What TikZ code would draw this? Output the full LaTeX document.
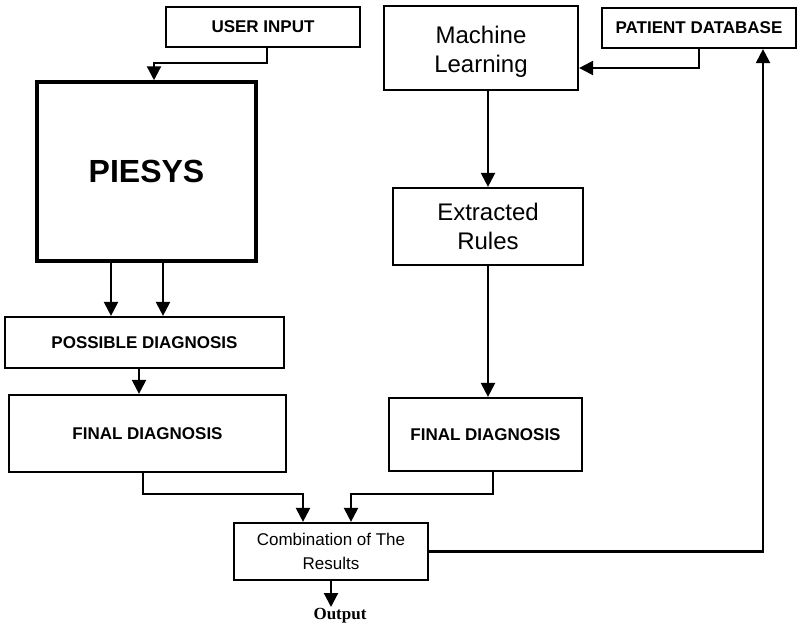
\documentclass[tikz,border=0pt]{standalone}
\usepackage{fontspec}
\setmainfont{Liberation Sans}
\newfontfamily\outfont{Liberation Serif}
\usepackage{tikz}
\usetikzlibrary{arrows.meta,calc}
\tikzset{>={Triangle[width=14pt,length=14pt]}}

\begin{document}
\begin{tikzpicture}[x=1pt,y=-1pt,
    capsbox/.style={draw,line width=2.2pt,inner sep=0pt,align=center,font=\fontsize{17}{20}\selectfont\bfseries},
    wordbox/.style={draw,line width=2.2pt,inner sep=0pt,align=center,font=\fontsize{24}{29}\selectfont},
    combbox/.style={draw,line width=2.2pt,inner sep=0pt,align=center,font=\fontsize{17}{24}\selectfont},
    conn/.style={line width=2.2pt,->}]
      \useasboundingbox (0,0) rectangle (800,632);
      \node[capsbox,minimum width=194pt,minimum height=40pt] (ui) at (263,27) {USER INPUT};
      \node[draw,line width=3.5pt,inner sep=0pt,minimum width=219pt,minimum height=179pt,font=\fontsize{32}{36}\selectfont\bfseries] (piesys) at (146.5,171.5) {PIESYS};
      \node[capsbox,minimum width=279pt,minimum height=51pt] (poss) at (144.5,342.5) {POSSIBLE DIAGNOSIS};
      \node[capsbox,minimum width=277pt,minimum height=77pt] (finl) at (147.5,433.5) {FINAL DIAGNOSIS};
      \node[wordbox,minimum width=194pt,minimum height=84pt,text height=55pt,text depth=5.5pt] (ml) at (481,48) {Machine\\Learning};
      \node[capsbox,minimum width=194pt,minimum height=40pt] (pd) at (699,28) {PATIENT DATABASE};
      \node[wordbox,minimum width=190pt,minimum height=77pt] (er) at (488,226.5) {Extracted\\Rules};
      \node[capsbox,minimum width=193pt,minimum height=73pt] (finr) at (485.5,434.5) {FINAL DIAGNOSIS};
      \node[combbox,minimum width=194pt,minimum height=57pt] (comb) at (331,551.5) {Combination of The\\Results};
      \node[anchor=north,inner sep=1pt,font=\outfont\fontsize{17}{19}\selectfont\bfseries] (out) at (340,607) {Output};
      \draw[conn] ([xshift=4pt]ui.south) -- ++(0,15) -| ([xshift=7.5pt]piesys.north);
      \draw[conn] ([xshift=-35.5pt]piesys.south) -- ([xshift=-35.5pt]piesys.south |- poss.north);
      \draw[conn] ([xshift=16.5pt]piesys.south) -- ([xshift=16.5pt]piesys.south |- poss.north);
      \draw[conn] ([xshift=-5.5pt]poss.south) -- ([xshift=-5.5pt]poss.south |- finl.north);
      \draw[conn] ([xshift=-4.5pt]finl.south) -- ++(0,21) -| ([xshift=-28pt]comb.north);
      \draw[conn] ([xshift=7.5pt]finr.south) -- ++(0,22) -| ([xshift=20pt]comb.north);
      \draw[conn] ([xshift=7pt]ml.south) -- (er.north);
      \draw[conn] (er.south) -- (er.south |- finr.north);
      \draw[conn] (pd.south) |- ([yshift=-20pt]ml.east);
      \draw[conn] (comb.east) -| ([xshift=64pt]pd.south);
      \draw[conn] (comb.south) -- (comb.south |- out.north);
    \end{tikzpicture}
\end{document}
